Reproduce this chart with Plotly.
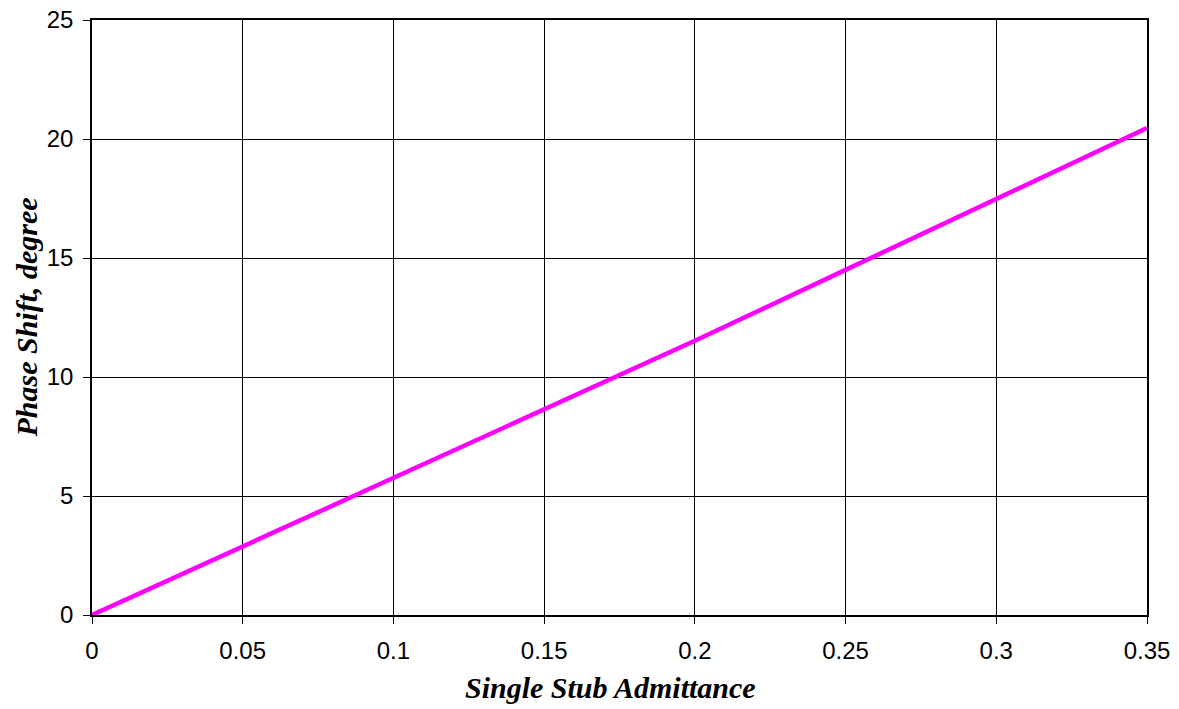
import plotly.graph_objects as go

admittance = [0, 0.05, 0.1, 0.15, 0.2, 0.25, 0.3, 0.35]
phase_shift = [0, 2.87, 5.74, 8.61, 11.52, 14.5, 17.47, 20.46]

x_ticks = [0, 0.05, 0.1, 0.15, 0.2, 0.25, 0.3, 0.35]
x_tick_labels = ["0", "0.05", "0.1", "0.15", "0.2", "0.25", "0.3", "0.35"]
y_ticks = [0, 5, 10, 15, 20, 25]
y_tick_labels = ["0", "5", "10", "15", "20", "25"]

x_title = "Single Stub Admittance"
y_title = "Phase Shift, degree"

fig = go.Figure()
fig.add_trace(go.Scatter(
    x=admittance, y=phase_shift, mode="lines",
    line=dict(color="#FF00FF", width=4.5),
    showlegend=False, hoverinfo="skip",
))

axis_common = dict(
    showgrid=True, gridcolor="black", gridwidth=1,
    showline=True, linecolor="black", linewidth=1.5, mirror=True,
    ticks="outside", ticklen=7, tickcolor="black", tickwidth=1,
    zeroline=False, automargin=False,
    tickfont=dict(family="Liberation Sans, Arial", size=24, color="black"),
)

title_font = dict(family="Liberation Serif, Times New Roman", size=30, color="black")

fig.update_layout(
    width=1179, height=709,
    margin=dict(l=92, r=32, t=20, b=94),
    paper_bgcolor="white", plot_bgcolor="white",
    xaxis=dict(range=[0, 0.35], tickvals=x_ticks, ticktext=x_tick_labels,
               ticklabelstandoff=6, **axis_common),
    yaxis=dict(range=[0, 25], tickvals=y_ticks, ticktext=y_tick_labels,
               ticklabelstandoff=5, **axis_common),
    annotations=[
        dict(text="<b><i>" + x_title + "</i></b>", xref="paper", yref="paper",
             x=0.4915, y=0, xanchor="center", yanchor="middle", yshift=-72,
             showarrow=False, font=title_font),
        dict(text="<b><i>" + y_title + "</i></b>", xref="paper", yref="paper",
             x=0, y=0.5, xanchor="center", yanchor="middle", xshift=-66,
             textangle=-90, showarrow=False, font=title_font),
    ],
)

fig.write_html(
    "out.html",
    config={"displayModeBar": False},
    post_script="document.documentElement.style.margin='0';document.body.style.margin='0';document.body.style.padding='0';document.body.style.overflow='hidden';document.documentElement.style.overflow='hidden';",
)
